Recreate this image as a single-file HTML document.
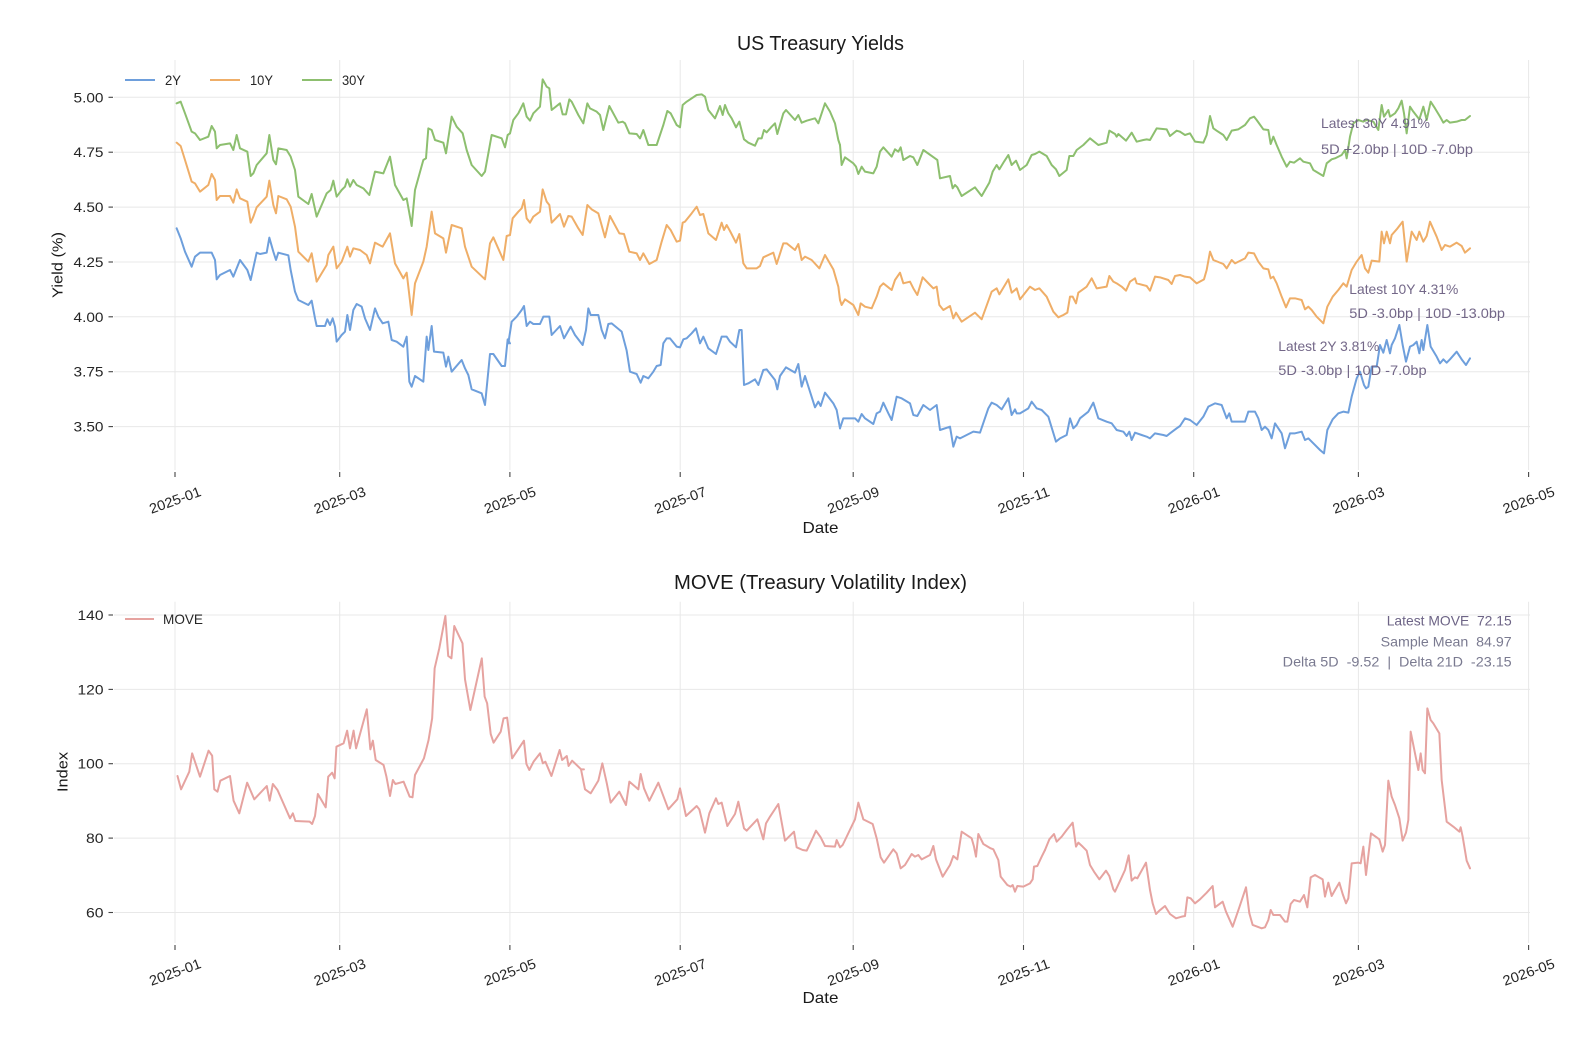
<!DOCTYPE html>
<html>
<head>
<meta charset="utf-8">
<style>
  html,body{margin:0;padding:0;background:#ffffff;}
  svg{display:block;}
  text{font-family:"Liberation Sans", sans-serif;}
</style>
</head>
<body>
<svg width="1576" height="1046" viewBox="0 0 1576 1046" xmlns="http://www.w3.org/2000/svg">
<rect x="0" y="0" width="1576" height="1046" fill="#ffffff"/>

<!-- ================= TOP CHART ================= -->
<g stroke="#e8e8e8" stroke-width="1" fill="none">
  <line x1="114" y1="97.3" x2="1530" y2="97.3"/>
  <line x1="114" y1="152.2" x2="1530" y2="152.2"/>
  <line x1="114" y1="207.1" x2="1530" y2="207.1"/>
  <line x1="114" y1="262" x2="1530" y2="262"/>
  <line x1="114" y1="316.8" x2="1530" y2="316.8"/>
  <line x1="114" y1="371.7" x2="1530" y2="371.7"/>
  <line x1="114" y1="426.6" x2="1530" y2="426.6"/>
  <line x1="175" y1="60" x2="175" y2="470"/>
  <line x1="339.7" y1="60" x2="339.7" y2="470"/>
  <line x1="509.9" y1="60" x2="509.9" y2="470"/>
  <line x1="680.2" y1="60" x2="680.2" y2="470"/>
  <line x1="853.2" y1="60" x2="853.2" y2="470"/>
  <line x1="1023.5" y1="60" x2="1023.5" y2="470"/>
  <line x1="1193.7" y1="60" x2="1193.7" y2="470"/>
  <line x1="1358.4" y1="60" x2="1358.4" y2="470"/>
  <line x1="1528.6" y1="60" x2="1528.6" y2="470"/>
</g>

<g stroke="#444" stroke-width="1.1">
  <line x1="108.5" y1="97.3" x2="113" y2="97.3"/>
  <line x1="108.5" y1="152.2" x2="113" y2="152.2"/>
  <line x1="108.5" y1="207.1" x2="113" y2="207.1"/>
  <line x1="108.5" y1="262" x2="113" y2="262"/>
  <line x1="108.5" y1="316.8" x2="113" y2="316.8"/>
  <line x1="108.5" y1="371.7" x2="113" y2="371.7"/>
  <line x1="108.5" y1="426.6" x2="113" y2="426.6"/>
  <line x1="175" y1="472" x2="175" y2="477"/>
  <line x1="339.7" y1="472" x2="339.7" y2="477"/>
  <line x1="509.9" y1="472" x2="509.9" y2="477"/>
  <line x1="680.2" y1="472" x2="680.2" y2="477"/>
  <line x1="853.2" y1="472" x2="853.2" y2="477"/>
  <line x1="1023.5" y1="472" x2="1023.5" y2="477"/>
  <line x1="1193.7" y1="472" x2="1193.7" y2="477"/>
  <line x1="1358.4" y1="472" x2="1358.4" y2="477"/>
  <line x1="1528.6" y1="472" x2="1528.6" y2="477"/>
</g>

<g fill="#262626" font-size="14" text-anchor="end">
  <text x="103.5" y="102.3" textLength="30" lengthAdjust="spacingAndGlyphs">5.00</text>
  <text x="103.5" y="157.2" textLength="30" lengthAdjust="spacingAndGlyphs">4.75</text>
  <text x="103.5" y="212.1" textLength="30" lengthAdjust="spacingAndGlyphs">4.50</text>
  <text x="103.5" y="267" textLength="30" lengthAdjust="spacingAndGlyphs">4.25</text>
  <text x="103.5" y="321.8" textLength="30" lengthAdjust="spacingAndGlyphs">4.00</text>
  <text x="103.5" y="376.7" textLength="30" lengthAdjust="spacingAndGlyphs">3.75</text>
  <text x="103.5" y="431.6" textLength="30" lengthAdjust="spacingAndGlyphs">3.50</text>
</g>

<g fill="#262626" font-size="14" text-anchor="middle">
  <text x="175" y="505" transform="rotate(-20 175 500)" textLength="54" lengthAdjust="spacingAndGlyphs">2025-01</text>
  <text x="339.7" y="505" transform="rotate(-20 339.7 500)" textLength="54" lengthAdjust="spacingAndGlyphs">2025-03</text>
  <text x="509.9" y="505" transform="rotate(-20 509.9 500)" textLength="54" lengthAdjust="spacingAndGlyphs">2025-05</text>
  <text x="680.2" y="505" transform="rotate(-20 680.2 500)" textLength="54" lengthAdjust="spacingAndGlyphs">2025-07</text>
  <text x="853.2" y="505" transform="rotate(-20 853.2 500)" textLength="54" lengthAdjust="spacingAndGlyphs">2025-09</text>
  <text x="1023.5" y="505" transform="rotate(-20 1023.5 500)" textLength="54" lengthAdjust="spacingAndGlyphs">2025-11</text>
  <text x="1193.7" y="505" transform="rotate(-20 1193.7 500)" textLength="54" lengthAdjust="spacingAndGlyphs">2026-01</text>
  <text x="1358.4" y="505" transform="rotate(-20 1358.4 500)" textLength="54" lengthAdjust="spacingAndGlyphs">2026-03</text>
  <text x="1528.6" y="505" transform="rotate(-20 1528.6 500)" textLength="54" lengthAdjust="spacingAndGlyphs">2026-05</text>
</g>

<text x="820.5" y="50" font-size="20" fill="#1a1a1a" text-anchor="middle" textLength="167" lengthAdjust="spacingAndGlyphs">US Treasury Yields</text>
<text x="820.5" y="533" font-size="16" fill="#1a1a1a" text-anchor="middle" textLength="36" lengthAdjust="spacingAndGlyphs">Date</text>
<text x="0" y="0" font-size="15" fill="#1a1a1a" text-anchor="middle" transform="translate(62.5,265) rotate(-90)" textLength="66" lengthAdjust="spacingAndGlyphs">Yield (%)</text>

<g stroke-width="2" fill="none">
  <line x1="125" y1="80" x2="155" y2="80" stroke="#6e9fdc"/>
  <line x1="210" y1="80" x2="240" y2="80" stroke="#efae68"/>
  <line x1="302" y1="80" x2="332" y2="80" stroke="#8dbf6f"/>
</g>
<g fill="#262626" font-size="14">
  <text x="165" y="85" textLength="16" lengthAdjust="spacingAndGlyphs">2Y</text>
  <text x="250" y="85" textLength="23" lengthAdjust="spacingAndGlyphs">10Y</text>
  <text x="342" y="85" textLength="23" lengthAdjust="spacingAndGlyphs">30Y</text>
</g>

<g fill="none" stroke-width="2" stroke-linejoin="round" stroke-linecap="round">
  <g stroke="#8dbf6f">
    <polyline vector-effect="non-scaling-stroke" transform="translate(160,70) scale(0.333333)" points="50,100 62,95 75,130 95,185 105,190 120,210 145,200 155,168 165,185 170,235 180,225 210,220 220,240 230,195 240,235 262,245 272,318 280,310 290,285 320,250 328,195 340,270 348,283 355,235 380,240 392,260 405,300 415,380 445,402 455,372 470,440 500,370 512,360 520,332 530,380 545,360 555,350 562,328 570,350 580,330 590,345 610,355 628,375 645,305 670,310 690,260 705,345 730,390 740,385 755,468 765,360 790,270 798,265 805,175 815,180 825,210 850,218 858,250 875,140 890,170 908,190 920,240 935,285 965,318 975,305 995,195 1025,205 1035,232 1043,195 1050,190"/>
    <polyline vector-effect="non-scaling-stroke" transform="translate(500,70) scale(0.333333)" points="30,190 40,150 55,130 70,100 80,140 90,152 100,130 120,110 128,28 140,50 148,55 155,120 180,100 188,133 198,133 208,88 215,95 235,135 250,160 262,100 270,115 290,125 300,135 310,180 328,108 355,158 368,155 375,160 388,190 410,192 420,205 430,180 445,225 470,225 490,165 502,123 512,130 530,165 540,172 548,105 560,95 590,75 605,73 615,80 625,120 645,145 660,108 668,135 675,105 685,130 695,145 708,172 718,155 732,208 745,218 765,227 775,205 785,205 792,180 800,187 815,170 825,160 832,192 850,130 858,120 885,150 895,135 905,158 920,152 945,145 955,160 975,100 990,125 1005,160 1015,210 1020,225"/>
    <polyline vector-effect="non-scaling-stroke" transform="translate(840,70) scale(0.333333)" points="0,225 5,285 15,262 40,280 48,290 55,312 65,290 75,305 100,310 110,290 120,245 130,232 155,260 165,238 175,245 182,232 190,270 210,258 220,262 232,285 250,240 285,265 292,270 300,325 330,318 338,355 345,345 352,352 365,378 405,352 425,378 448,338 458,305 470,285 478,298 492,275 505,255 515,285 528,272 540,300 560,285 575,255 585,252 598,245 620,258 635,285 648,298 658,318 680,300 688,258 700,258 710,240 730,225 750,205 775,225 800,218 808,182 825,192 830,200 835,192 858,212 875,188 890,215 910,210 920,208 930,210 950,175 980,178 990,198 1010,182 1020,185"/>
    <polyline vector-effect="non-scaling-stroke" transform="translate(1180,70) scale(0.333333)" points="0,185 15,195 30,190 45,215 70,218 80,195 90,138 100,175 110,182 130,195 140,210 155,182 175,178 195,165 210,145 222,140 230,150 250,178 265,180 272,222 280,200 290,225 305,260 320,290 330,275 342,278 360,265 370,275 390,280 400,300 420,312 430,318 440,280 455,268 465,265 485,255 495,240 500,265 510,200 520,160 535,150 550,155 560,150 580,155 595,180 605,105 612,140 625,120 630,140 645,130 655,115 665,92 672,130 680,190 690,110 700,125 718,148 730,110 740,150 752,95 765,115 780,140 790,158 800,150 810,158 830,155 845,150 855,150 870,138"/>
  </g>
  <g stroke="#efae68">
    <polyline vector-effect="non-scaling-stroke" transform="translate(160,70) scale(0.333333)" points="50,218 62,228 75,270 95,335 105,340 120,365 145,345 155,312 165,330 170,390 180,378 210,378 220,398 230,358 240,385 262,395 272,458 280,440 290,412 320,380 328,332 340,405 348,430 355,378 380,388 392,410 405,470 415,545 445,575 455,550 470,635 500,585 505,555 520,530 530,595 545,575 562,530 570,560 580,535 600,540 620,555 630,580 645,518 668,530 690,490 705,580 730,625 740,608 755,735 765,640 790,575 800,530 815,425 825,490 850,505 858,548 875,465 905,475 915,530 935,590 975,628 990,520 1000,502 1030,570 1040,498 1050,495"/>
    <polyline vector-effect="non-scaling-stroke" transform="translate(500,70) scale(0.333333)" points="30,495 38,445 55,425 65,415 72,390 80,445 90,458 100,440 120,425 128,358 140,395 148,405 155,458 180,432 192,470 205,438 215,440 235,475 248,495 262,405 275,418 295,430 315,502 330,438 358,490 372,492 388,545 410,550 420,570 430,550 448,582 470,570 485,515 500,465 512,480 530,515 540,512 548,458 555,455 575,430 590,410 600,435 610,432 625,490 648,510 665,458 672,480 680,465 690,483 708,518 718,492 730,580 740,595 770,595 780,588 790,562 820,548 830,582 850,520 860,520 885,540 895,522 905,570 915,560 935,570 958,595 975,555 1000,598 1015,650 1020,690"/>
    <polyline vector-effect="non-scaling-stroke" transform="translate(840,70) scale(0.333333)" points="0,690 5,705 15,688 40,705 55,735 62,700 75,710 95,715 110,680 120,650 130,640 155,660 165,630 180,608 190,640 210,635 220,655 232,675 248,622 270,645 280,655 290,650 298,705 310,720 330,708 340,745 348,728 365,755 405,728 425,748 455,665 470,655 478,673 505,628 515,668 525,660 530,655 540,688 570,650 585,660 598,655 620,680 640,725 655,742 670,735 682,728 690,680 698,680 708,700 715,668 740,650 755,625 770,655 800,650 808,618 820,635 830,640 845,650 858,662 870,635 885,625 890,640 920,648 930,662 945,620 960,622 985,630 995,642 1005,618 1020,615"/>
    <polyline vector-effect="non-scaling-stroke" transform="translate(1180,70) scale(0.333333)" points="0,615 15,620 30,622 50,640 72,628 80,600 90,545 100,570 130,582 140,595 155,570 165,580 195,565 205,548 222,550 235,575 250,595 265,598 272,625 280,620 290,640 305,680 318,712 330,685 345,685 365,690 375,718 385,710 395,720 410,740 430,760 442,710 458,680 475,660 490,640 500,650 515,600 530,575 545,555 555,595 565,608 575,572 598,575 605,485 612,520 620,485 630,520 635,495 650,478 668,455 680,575 695,485 710,510 718,485 730,515 740,498 750,455 770,500 785,540 795,525 810,530 830,518 845,528 855,548 870,535"/>
  </g>
  <g stroke="#6e9fdc">
    <polyline vector-effect="non-scaling-stroke" transform="translate(160,70) scale(0.333333)" points="50,475 62,505 75,545 95,590 105,560 120,548 155,548 165,570 170,628 180,615 210,600 220,620 240,570 262,600 272,630 290,548 300,552 320,548 328,503 340,545 348,570 355,548 385,556 392,600 405,665 415,690 445,705 455,692 465,745 470,768 495,768 502,748 510,765 518,745 525,770 530,815 545,795 555,785 562,735 570,780 580,720 590,702 605,710 615,745 630,780 645,715 655,740 668,760 685,755 695,810 710,815 730,830 740,800 748,935 755,950 765,918 790,935 800,800 805,840 815,768 822,845 850,848 858,890 865,860 875,905 905,870 915,895 925,915 935,958 965,970 975,1005 990,852 1000,852 1025,888 1035,888 1043,808 1050,820"/>
    <polyline vector-effect="non-scaling-stroke" transform="translate(500,70) scale(0.333333)" points="25,820 35,755 50,740 65,720 72,708 80,768 90,755 100,762 120,762 130,740 148,740 155,795 180,768 192,805 212,770 225,795 248,825 258,780 265,715 272,735 295,735 305,780 315,805 325,762 335,760 365,785 380,842 390,905 410,912 422,938 430,918 445,925 460,905 470,888 482,885 490,820 500,805 510,805 530,830 540,832 550,808 560,805 575,790 588,775 600,820 610,800 625,835 648,852 665,800 680,800 690,815 708,832 718,780 725,780 732,945 745,940 765,928 775,945 790,900 800,898 825,930 832,958 840,918 858,892 885,908 895,882 905,950 915,918 945,1012 955,995 962,1008 975,968 1000,1000 1010,1020 1020,1075"/>
    <polyline vector-effect="non-scaling-stroke" transform="translate(840,70) scale(0.333333)" points="0,1075 10,1045 45,1045 55,1055 65,1032 75,1045 100,1062 110,1030 120,1025 130,998 145,1030 155,1050 170,980 185,985 210,1000 220,1035 232,1038 250,1005 270,1020 290,1005 300,1080 330,1070 340,1130 350,1100 360,1105 380,1095 400,1085 420,1088 445,1015 455,998 470,1005 485,1018 505,985 515,1035 525,1018 530,1030 540,1030 565,1015 575,995 590,1015 605,1020 625,1040 648,1115 660,1105 680,1095 690,1045 700,1075 710,1065 720,1045 745,1025 760,998 775,1045 800,1055 815,1060 830,1080 850,1085 860,1098 868,1085 875,1110 885,1088 905,1095 920,1100 930,1105 945,1090 970,1095 980,1098 990,1090 1010,1075 1020,1068"/>
    <polyline vector-effect="non-scaling-stroke" transform="translate(1180,70) scale(0.333333)" points="0,1068 15,1045 30,1050 50,1065 70,1040 85,1010 105,1000 125,1005 140,1045 148,1030 155,1055 175,1055 195,1055 205,1025 225,1025 235,1045 245,1080 255,1070 265,1080 275,1105 285,1060 295,1075 305,1090 315,1135 330,1090 345,1090 365,1085 375,1110 385,1105 400,1120 420,1140 432,1150 442,1080 458,1048 475,1030 490,1025 505,1028 515,980 530,925 540,905 552,945 558,955 565,950 575,890 590,890 600,825 610,848 620,810 630,850 635,825 645,805 658,765 668,825 678,875 690,830 700,825 710,815 718,850 725,810 730,840 742,765 752,830 770,860 780,880 790,868 800,878 810,868 830,845 845,868 858,885 870,865"/>
  </g>
</g>

<g fill="#6c5f82" font-size="14" fill-opacity="0.95">
  <text x="1321" y="128" textLength="109" lengthAdjust="spacingAndGlyphs">Latest 30Y 4.91%</text>
  <text x="1321" y="154" textLength="152" lengthAdjust="spacingAndGlyphs">5D +2.0bp | 10D -7.0bp</text>
  <text x="1349.3" y="294" textLength="109" lengthAdjust="spacingAndGlyphs">Latest 10Y 4.31%</text>
  <text x="1349.3" y="318" textLength="155.7" lengthAdjust="spacingAndGlyphs">5D -3.0bp | 10D -13.0bp</text>
  <text x="1278.3" y="351" textLength="101" lengthAdjust="spacingAndGlyphs">Latest 2Y 3.81%</text>
  <text x="1278.3" y="375" textLength="148.3" lengthAdjust="spacingAndGlyphs">5D -3.0bp | 10D -7.0bp</text>
</g>

<!-- ================= BOTTOM CHART ================= -->
<g stroke="#e8e8e8" stroke-width="1" fill="none">
  <line x1="114" y1="615" x2="1530" y2="615"/>
  <line x1="114" y1="689.4" x2="1530" y2="689.4"/>
  <line x1="114" y1="763.7" x2="1530" y2="763.7"/>
  <line x1="114" y1="838.1" x2="1530" y2="838.1"/>
  <line x1="114" y1="912.5" x2="1530" y2="912.5"/>
  <line x1="175" y1="601.7" x2="175" y2="943"/>
  <line x1="339.7" y1="601.7" x2="339.7" y2="943"/>
  <line x1="509.9" y1="601.7" x2="509.9" y2="943"/>
  <line x1="680.2" y1="601.7" x2="680.2" y2="943"/>
  <line x1="853.2" y1="601.7" x2="853.2" y2="943"/>
  <line x1="1023.5" y1="601.7" x2="1023.5" y2="943"/>
  <line x1="1193.7" y1="601.7" x2="1193.7" y2="943"/>
  <line x1="1358.4" y1="601.7" x2="1358.4" y2="943"/>
  <line x1="1528.6" y1="601.7" x2="1528.6" y2="943"/>
</g>

<g stroke="#444" stroke-width="1.1">
  <line x1="108.5" y1="615" x2="113" y2="615"/>
  <line x1="108.5" y1="689.4" x2="113" y2="689.4"/>
  <line x1="108.5" y1="763.7" x2="113" y2="763.7"/>
  <line x1="108.5" y1="838.1" x2="113" y2="838.1"/>
  <line x1="108.5" y1="912.5" x2="113" y2="912.5"/>
  <line x1="175" y1="945" x2="175" y2="950"/>
  <line x1="339.7" y1="945" x2="339.7" y2="950"/>
  <line x1="509.9" y1="945" x2="509.9" y2="950"/>
  <line x1="680.2" y1="945" x2="680.2" y2="950"/>
  <line x1="853.2" y1="945" x2="853.2" y2="950"/>
  <line x1="1023.5" y1="945" x2="1023.5" y2="950"/>
  <line x1="1193.7" y1="945" x2="1193.7" y2="950"/>
  <line x1="1358.4" y1="945" x2="1358.4" y2="950"/>
  <line x1="1528.6" y1="945" x2="1528.6" y2="950"/>
</g>

<g fill="#262626" font-size="14" text-anchor="end">
  <text x="103.5" y="620" textLength="26" lengthAdjust="spacingAndGlyphs">140</text>
  <text x="103.5" y="694.4" textLength="26" lengthAdjust="spacingAndGlyphs">120</text>
  <text x="103.5" y="768.7" textLength="26" lengthAdjust="spacingAndGlyphs">100</text>
  <text x="103.5" y="843.1" textLength="17.5" lengthAdjust="spacingAndGlyphs">80</text>
  <text x="103.5" y="917.5" textLength="17.5" lengthAdjust="spacingAndGlyphs">60</text>
</g>

<g fill="#262626" font-size="14" text-anchor="middle">
  <text x="175" y="977" transform="rotate(-20 175 972)" textLength="54" lengthAdjust="spacingAndGlyphs">2025-01</text>
  <text x="339.7" y="977" transform="rotate(-20 339.7 972)" textLength="54" lengthAdjust="spacingAndGlyphs">2025-03</text>
  <text x="509.9" y="977" transform="rotate(-20 509.9 972)" textLength="54" lengthAdjust="spacingAndGlyphs">2025-05</text>
  <text x="680.2" y="977" transform="rotate(-20 680.2 972)" textLength="54" lengthAdjust="spacingAndGlyphs">2025-07</text>
  <text x="853.2" y="977" transform="rotate(-20 853.2 972)" textLength="54" lengthAdjust="spacingAndGlyphs">2025-09</text>
  <text x="1023.5" y="977" transform="rotate(-20 1023.5 972)" textLength="54" lengthAdjust="spacingAndGlyphs">2025-11</text>
  <text x="1193.7" y="977" transform="rotate(-20 1193.7 972)" textLength="54" lengthAdjust="spacingAndGlyphs">2026-01</text>
  <text x="1358.4" y="977" transform="rotate(-20 1358.4 972)" textLength="54" lengthAdjust="spacingAndGlyphs">2026-03</text>
  <text x="1528.6" y="977" transform="rotate(-20 1528.6 972)" textLength="54" lengthAdjust="spacingAndGlyphs">2026-05</text>
</g>

<text x="820.5" y="589" font-size="20" fill="#1a1a1a" text-anchor="middle" textLength="293" lengthAdjust="spacingAndGlyphs">MOVE (Treasury Volatility Index)</text>
<text x="820.5" y="1003" font-size="16" fill="#1a1a1a" text-anchor="middle" textLength="36" lengthAdjust="spacingAndGlyphs">Date</text>
<text x="0" y="0" font-size="15" fill="#1a1a1a" text-anchor="middle" transform="translate(67.5,772) rotate(-90)" textLength="40" lengthAdjust="spacingAndGlyphs">Index</text>

<line x1="125" y1="619" x2="154" y2="619" stroke="#e6a3a0" stroke-width="2"/>
<text x="163" y="624" font-size="14" fill="#262626" textLength="40" lengthAdjust="spacingAndGlyphs">MOVE</text>

<g fill="none" stroke="#e6a3a0" stroke-width="2" stroke-linejoin="round" stroke-linecap="round">
  <polyline vector-effect="non-scaling-stroke" transform="translate(40,590) scale(0.357143,0.333333)" points="385,558 395,598 418,545 426,490 448,560 472,482 482,497 488,598 497,605 505,572 532,558 542,632 558,670 580,578 600,628 635,588 643,632 652,582 665,600 700,685 708,670 715,693 755,695 762,702 770,678 778,612 800,652 807,560 818,548 825,565 830,470 850,460 860,422 868,475 878,422 885,475 915,358 925,478 932,452 940,510 962,525 970,560 980,618 988,570 995,582 1018,575 1035,620 1043,622 1050,555 1075,505 1088,450 1098,385 1105,235 1118,175 1135,78 1143,198 1152,205 1160,108 1183,160 1190,268 1205,360 1237,205 1245,320 1252,340 1262,432 1270,458 1290,425 1298,385 1308,383 1322,505 1355,452 1362,522 1370,540 1382,515 1400,490 1408,520 1415,515 1432,558 1455,480 1462,510 1475,498 1480,528 1490,512 1515,538 1523,538"/>
  <polyline vector-effect="non-scaling-stroke" transform="translate(580,590) scale(0.333333)" points="3,538 15,598 32,610 55,572 67,520 80,578 92,638 118,605 138,645 148,575 175,598 182,552 192,595 208,632 235,578 265,658 292,628 300,595 318,678 350,648 358,658 375,728 388,670 408,625 415,642 425,638 442,708 465,672 475,635 492,715 500,722 532,688 550,748 558,700 570,680 595,642 615,752 625,742 642,725 650,772 668,780 680,782 700,740 708,722 722,742 735,768 765,770 770,750 780,772 788,765 825,688 835,638 850,688 878,702 890,745 902,802 912,818 940,778 950,790 962,835 975,825 995,792 1005,800 1015,795 1025,808 1050,795 1060,768 1068,808 1088,860 1110,825 1120,798 1132,808 1145,725 1175,745 1182,770 1188,800 1195,732 1210,762 1232,775 1240,778 1255,810 1262,860 1282,885 1292,890 1298,885 1305,905 1312,888 1330,890 1350,880 1358,868 1362,830 1372,828 1385,800 1395,780"/>
  <polyline vector-effect="non-scaling-stroke" transform="translate(1040,590) scale(0.333333)" points="15,780 28,748 42,732 50,755 65,740 80,720 98,698 108,770 115,758 128,770 140,782 150,825 162,845 178,868 198,842 208,858 220,898 225,905 245,862 255,840 266,796 275,872 285,862 292,865 318,818 330,900 338,940 348,972 358,962 375,948 390,972 408,985 425,980 435,978 442,922 452,925 465,940 480,928 500,908 518,888 525,952 548,935 558,965 578,1010 598,952 618,892 628,970 638,1005 665,1015 675,1012 685,990 692,960 700,975 720,975 735,995 742,995 752,942 762,930 780,935 792,915 802,952 812,862 825,855 848,868 855,920 865,878 875,918 885,900 898,878 908,912 918,940 925,925 935,820 955,818 962,820 970,770 978,855 993,730 1018,748 1028,785 1035,765 1045,572 1055,620 1065,645 1078,685 1088,752 1098,728 1105,690 1112,425 1135,540 1142,490 1148,540 1155,550 1162,355 1172,390 1180,400 1198,430 1205,570 1220,695 1240,710 1258,725 1262,712 1268,740 1280,812 1290,835"/>
</g>

<g font-size="14" text-anchor="end">
  <text x="1511.7" y="625.7" fill="#6d6486" textLength="125" lengthAdjust="spacingAndGlyphs" xml:space="preserve">Latest MOVE  72.15</text>
  <text x="1511.7" y="646.7" fill="#7a7a90" textLength="131" lengthAdjust="spacingAndGlyphs" xml:space="preserve">Sample Mean  84.97</text>
  <text x="1511.7" y="666.7" fill="#7a7a90" textLength="229" lengthAdjust="spacingAndGlyphs" xml:space="preserve">Delta 5D  -9.52  |  Delta 21D  -23.15</text>
</g>

</svg>
</body>
</html>
